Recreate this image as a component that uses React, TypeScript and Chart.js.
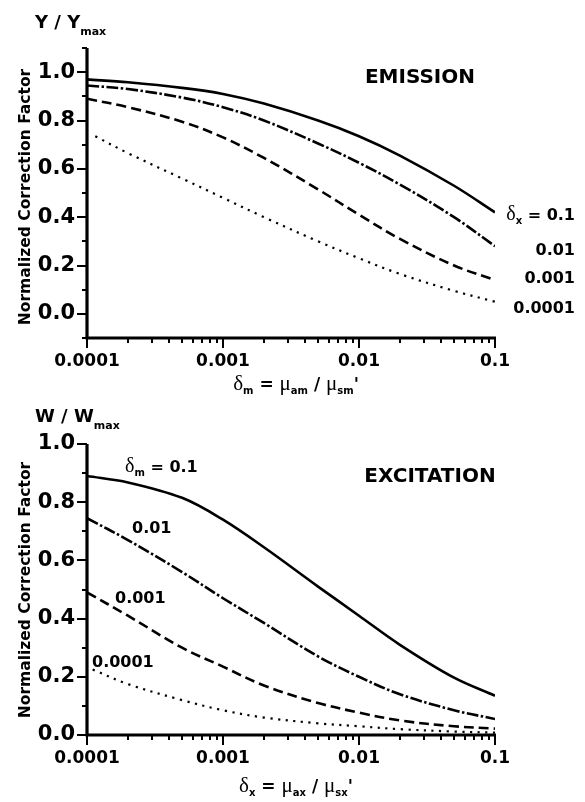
import { useEffect, useRef } from "react";
import { Chart, registerables } from "chart.js";

Chart.register(...registerables);

// ---- data ----------------------------------------------------------------

// sampling positions on the logarithmic ratio axis
const xSamples = [1e-4, 2e-4, 5e-4, 1e-3, 2e-3, 5e-3, 1e-2, 2e-2, 5e-2, 1e-1];
const xSamplesEmissionLow = [1.15e-4, 2e-4, 5e-4, 1e-3, 2e-3, 5e-3, 1e-2, 2e-2, 5e-2, 1e-1];
const xSamplesExcitationLow = [1.1e-4, 2e-4, 5e-4, 1e-3, 2e-3, 5e-3, 1e-2, 2e-2, 5e-2, 1e-1];

// emission correction Y / Ymax against delta_m, one curve per delta_x
const emissionDx0_1 = [0.97, 0.958, 0.935, 0.91, 0.87, 0.8, 0.735, 0.655, 0.53, 0.42];
const emissionDx0_01 = [0.945, 0.93, 0.895, 0.855, 0.8, 0.705, 0.625, 0.535, 0.4, 0.28];
const emissionDx0_001 = [0.89, 0.855, 0.795, 0.73, 0.645, 0.515, 0.41, 0.31, 0.2, 0.14];
const emissionDx0_0001 = [0.735, 0.665, 0.56, 0.48, 0.4, 0.3, 0.23, 0.165, 0.095, 0.05];

// excitation correction W / Wmax against delta_x, one curve per delta_m
const excitationDm0_1 = [0.89, 0.868, 0.815, 0.74, 0.645, 0.51, 0.41, 0.31, 0.197, 0.135];
const excitationDm0_01 = [0.745, 0.67, 0.56, 0.47, 0.385, 0.27, 0.2, 0.14, 0.085, 0.055];
const excitationDm0_001 = [0.49, 0.41, 0.3, 0.235, 0.17, 0.11, 0.077, 0.05, 0.03, 0.022];
const excitationDm0_0001 = [0.225, 0.175, 0.12, 0.085, 0.06, 0.04, 0.03, 0.02, 0.012, 0.008];

const curveLabels = ["0.1", "0.01", "0.001", "0.0001"];

const xMajorTicks = [1e-4, 1e-3, 1e-2, 1e-1];
const xMajorLabels = ["0.0001", "0.001", "0.01", "0.1"];
const yMajorTicks = [0, 0.2, 0.4, 0.6, 0.8, 1.0];

// ---- style ---------------------------------------------------------------

const INK = "#000";
const SANS = "'DejaVu Sans', 'Liberation Sans', Arial, sans-serif";
const SERIF = "'Liberation Serif', 'DejaVu Serif', serif";
const W = 585;

const lineStyles = [
  { borderWidth: 2.6, borderDash: [] as number[] },
  { borderWidth: 2.6, borderDash: [12, 2.5, 2.5, 2.5] },
  { borderWidth: 2.6, borderDash: [10, 5] },
  { borderWidth: 2.2, borderDash: [2.2, 5.5] },
];

type Part = { t: string; font: string; dy?: number };

function drawRich(ctx: CanvasRenderingContext2D, parts: Part[], x: number, y: number, align: "left" | "center" | "right") {
  let total = 0;
  for (const p of parts) {
    ctx.font = p.font;
    total += ctx.measureText(p.t).width;
  }
  let cx = align === "left" ? x : align === "center" ? x - total / 2 : x - total;
  ctx.textAlign = "left";
  ctx.textBaseline = "alphabetic";
  for (const p of parts) {
    ctx.font = p.font;
    ctx.fillText(p.t, cx, y + (p.dy || 0));
    cx += ctx.measureText(p.t).width;
  }
}

const bold = (size: number) => `bold ${size}px ${SANS}`;
const greek = (size: number) => `${size}px ${SERIF}`;

function ratioTitle(sym: string, sub: string, a: string, s: string): Part[] {
  return [
    { t: "δ", font: greek(21) },
    { t: sub, font: bold(10), dy: 4 },
    { t: " = ", font: bold(17) },
    { t: "μ", font: greek(21) },
    { t: a, font: bold(10), dy: 4 },
    { t: " / ", font: bold(17) },
    { t: "μ", font: greek(21) },
    { t: s, font: bold(10), dy: 4 },
    { t: sym, font: bold(17) },
  ];
}

function buildXTicks() {
  const ticks: { value: number; major: boolean }[] = [];
  for (const d of [1e-4, 1e-3, 1e-2]) {
    for (let k = 1; k <= 9; k++) ticks.push({ value: k * d, major: k === 1 });
  }
  ticks.push({ value: 1e-1, major: true });
  return ticks;
}

type PanelSpec = {
  height: number;
  areaTop: number;
  areaBottom: number;
  yMin: number;
  yMax: number;
  series: { xs: number[]; ys: number[] }[];
  decorate: (ctx: CanvasRenderingContext2D) => void;
};

function makeConfig(spec: PanelSpec): any {
  const xTicks = buildXTicks();
  const datasets = spec.series.map((s, i) => ({
    data: s.xs.map((x, j) => ({ x, y: s.ys[j] })),
    borderColor: INK,
    borderWidth: lineStyles[i].borderWidth,
    borderDash: lineStyles[i].borderDash,
    pointRadius: 0,
    fill: false,
    tension: 0.35,
  }));

  const axesPlugin = {
    id: "axesAndText",
    afterDraw(chart: any) {
      const { ctx, chartArea: a } = chart;
      const xs = chart.scales.x;
      const ys = chart.scales.y;
      ctx.save();
      ctx.strokeStyle = INK;
      ctx.fillStyle = INK;
      // axis lines
      ctx.lineWidth = 3.2;
      ctx.beginPath();
      ctx.moveTo(a.left, a.top);
      ctx.lineTo(a.left, a.bottom);
      ctx.moveTo(a.left - 1.6, a.bottom);
      ctx.lineTo(a.right + 1, a.bottom);
      ctx.stroke();
      // x tick marks
      ctx.lineWidth = 2;
      ctx.beginPath();
      for (const t of xTicks) {
        const px = Math.round(xs.getPixelForValue(t.value));
        ctx.moveTo(px, a.bottom);
        ctx.lineTo(px, a.bottom + (t.major ? 10 : 5));
      }
      // y tick marks
      const n = Math.round((spec.yMax - spec.yMin) * 10);
      for (let i = 0; i <= n; i++) {
        const v = spec.yMin + i / 10;
        const tenth = Math.round(v * 10);
        const major = tenth % 2 === 0;
        const py = Math.round(ys.getPixelForValue(v));
        ctx.moveTo(a.left, py);
        ctx.lineTo(a.left - (major ? 10 : 5), py);
      }
      ctx.stroke();
      spec.decorate(ctx);
      ctx.restore();
    },
  };

  return {
    type: "line",
    data: { datasets },
    options: {
      animation: false,
      responsive: false,
      devicePixelRatio: 1,
      layout: { padding: { top: spec.areaTop, right: W - 495, left: 0, bottom: 0 } },
      plugins: { legend: { display: false }, tooltip: { enabled: false }, title: { display: false } },
      elements: { point: { radius: 0 } },
      scales: {
        x: {
          type: "logarithmic",
          min: 1e-4,
          max: 1e-1,
          grid: { display: false, drawTicks: false },
          border: { display: false },
          afterFit(scale: any) {
            scale.height = spec.height - spec.areaBottom;
          },
          afterBuildTicks(scale: any) {
            scale.ticks = xTicks.map((t) => ({ value: t.value }));
          },
          ticks: {
            autoSkip: false,
            maxRotation: 0,
            minRotation: 0,
            padding: 13,
            color: INK,
            font: { family: SANS, size: 17, weight: "bold" },
            callback(value: number) {
              const i = xMajorTicks.findIndex((m) => Math.abs(m - value) / m < 1e-6);
              return i >= 0 ? xMajorLabels[i] : "";
            },
          },
        },
        y: {
          type: "linear",
          min: spec.yMin,
          max: spec.yMax,
          grid: { display: false, drawTicks: false },
          border: { display: false },
          afterFit(scale: any) {
            scale.width = 87;
          },
          afterBuildTicks(scale: any) {
            scale.ticks = yMajorTicks.map((v) => ({ value: v }));
          },
          ticks: {
            padding: 12,
            color: INK,
            font: { family: SANS, size: 21, weight: "bold" },
            callback(value: number) {
              return value.toFixed(1);
            },
          },
        },
      },
    },
    plugins: [axesPlugin],
  };
}

function drawYTitle(ctx: CanvasRenderingContext2D, cx: number, cy: number) {
  ctx.save();
  ctx.translate(cx, cy);
  ctx.rotate(-Math.PI / 2);
  ctx.font = bold(15.5);
  ctx.textAlign = "center";
  ctx.textBaseline = "middle";
  ctx.fillText("Normalized Correction Factor", 0, 0);
  ctx.restore();
}

const emissionSpec: PanelSpec = {
  height: 398,
  areaTop: 48,
  areaBottom: 338,
  yMin: -0.1,
  yMax: 1.1,
  series: [
    { xs: xSamples, ys: emissionDx0_1 },
    { xs: xSamples, ys: emissionDx0_01 },
    { xs: xSamples, ys: emissionDx0_001 },
    { xs: xSamplesEmissionLow, ys: emissionDx0_0001 },
  ],
  decorate(ctx) {
    drawRich(ctx, [{ t: "Y / Y", font: bold(18) }, { t: "max", font: bold(11), dy: 7 }], 35, 28, "left");
    ctx.font = bold(20);
    ctx.textAlign = "center";
    ctx.fillText("EMISSION", 420, 83);
    drawRich(
      ctx,
      [{ t: "δ", font: greek(20) }, { t: "x", font: bold(10), dy: 4 }, { t: " = " + curveLabels[0], font: bold(16) }],
      575,
      220,
      "right"
    );
    const baselines = [255, 283, 313];
    for (let i = 1; i < 4; i++) {
      drawRich(ctx, [{ t: curveLabels[i], font: bold(16) }], 575, baselines[i - 1], "right");
    }
    drawRich(ctx, ratioTitle("'", "m", "am", "sm"), 296, 390, "center");
    drawYTitle(ctx, 26, 197);
  },
};

const excitationSpec: PanelSpec = {
  height: 404,
  areaTop: 46,
  areaBottom: 337,
  yMin: 0,
  yMax: 1.0,
  series: [
    { xs: xSamples, ys: excitationDm0_1 },
    { xs: xSamples, ys: excitationDm0_01 },
    { xs: xSamples, ys: excitationDm0_001 },
    { xs: xSamplesExcitationLow, ys: excitationDm0_0001 },
  ],
  decorate(ctx) {
    drawRich(ctx, [{ t: "W / W", font: bold(18) }, { t: "max", font: bold(11), dy: 7 }], 35, 24, "left");
    ctx.font = bold(20);
    ctx.textAlign = "center";
    ctx.fillText("EXCITATION", 430, 84);
    drawRich(
      ctx,
      [{ t: "δ", font: greek(20) }, { t: "m", font: bold(10), dy: 4 }, { t: " = " + curveLabels[0], font: bold(16) }],
      125,
      74,
      "left"
    );
    drawRich(ctx, [{ t: curveLabels[1], font: bold(16) }], 132, 135, "left");
    drawRich(ctx, [{ t: curveLabels[2], font: bold(16) }], 115, 205, "left");
    drawRich(ctx, [{ t: curveLabels[3], font: bold(16) }], 92, 269, "left");
    drawRich(ctx, ratioTitle("'", "x", "ax", "sx"), 296, 394, "center");
    drawYTitle(ctx, 26, 192);
  },
};

function Panel({ spec }: { spec: PanelSpec }) {
  const ref = useRef<HTMLCanvasElement>(null);
  useEffect(() => {
    const chart = new Chart(ref.current as HTMLCanvasElement, makeConfig(spec));
    return () => chart.destroy();
  }, [spec]);
  return (
    <canvas
      ref={ref}
      width={W}
      height={spec.height}
      style={{ display: "block", width: W, height: spec.height }}
    />
  );
}

export default function App() {
  return (
    <div style={{ position: "absolute", left: 0, top: 0, width: W, height: 802, background: "#fff" }}>
      <Panel spec={emissionSpec} />
      <Panel spec={excitationSpec} />
    </div>
  );
}
